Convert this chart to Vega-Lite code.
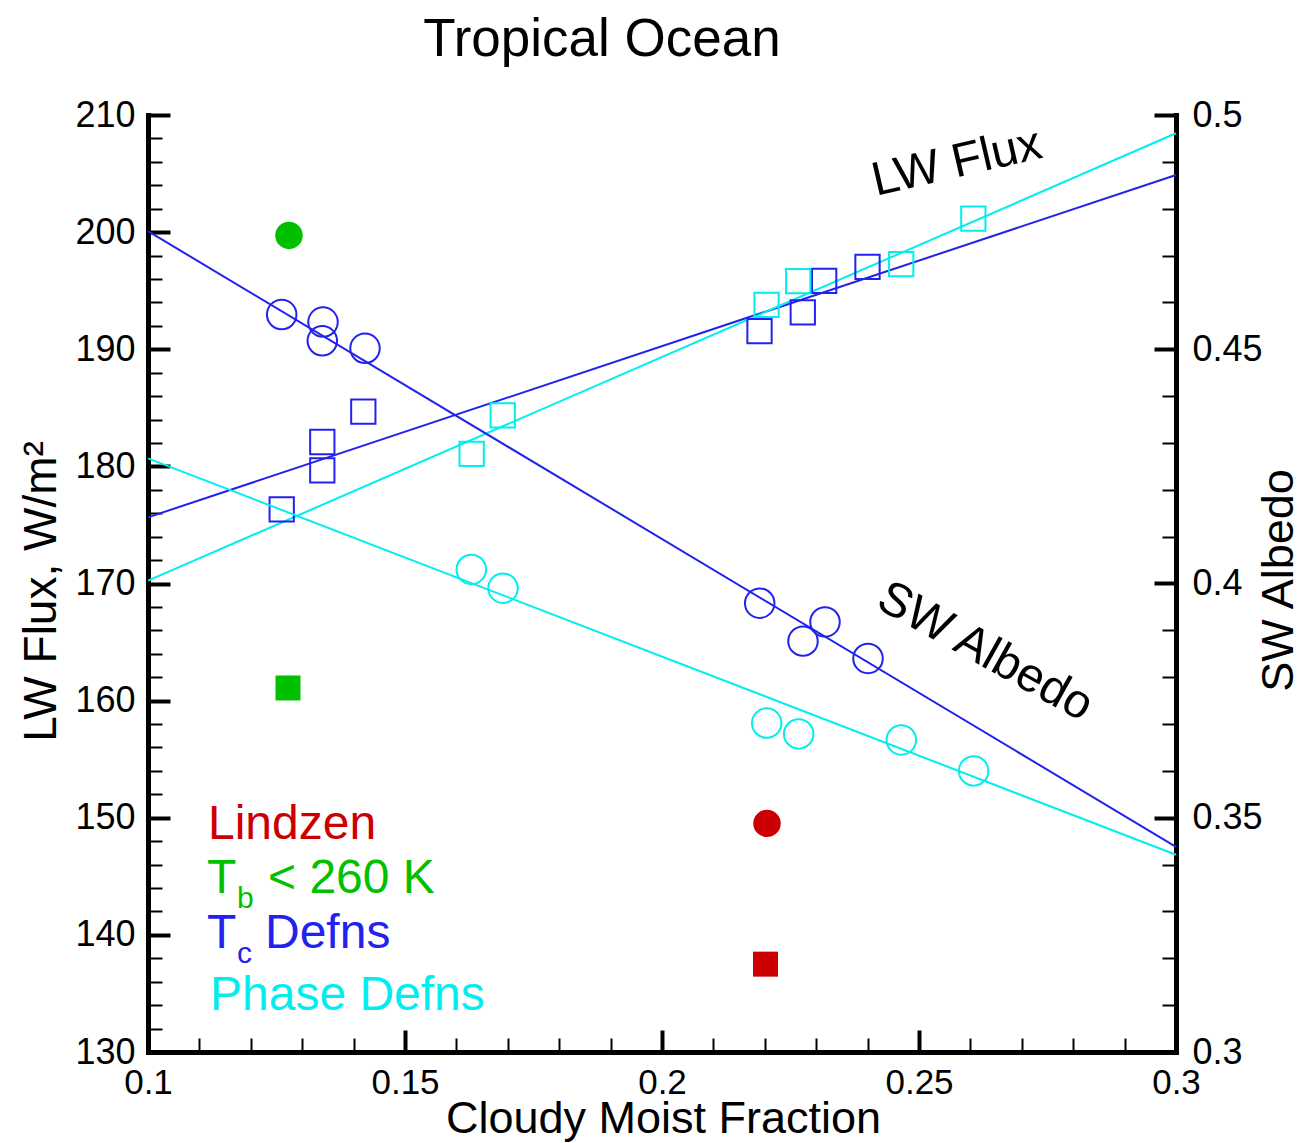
{
  "$schema": "https://vega.github.io/schema/vega-lite/v6.json",
  "width": 1028,
  "height": 937,
  "autosize": {"type": "none"},
  "padding": {"left": 148, "top": 115, "right": 126, "bottom": 91},
  "background": "white",
  "config": {"view": {"stroke": null}, "font": "Liberation Sans"},
  "title": {"text": "Tropical Ocean", "fontSize": 53, "fontWeight": "normal", "font": "Liberation Sans", "color": "black", "anchor": "middle", "frame": "group", "dx": -60, "baseline": "alphabetic", "offset": -12},
  "datasets": {
    "flux": [
      {"frac": 0.12601, "flux": 176.33, "series": "Tc"},
      {"frac": 0.13391, "flux": 182.08, "series": "Tc"},
      {"frac": 0.13391, "flux": 179.66, "series": "Tc"},
      {"frac": 0.14189, "flux": 184.67, "series": "Tc"},
      {"frac": 0.21897, "flux": 191.54, "series": "Tc"},
      {"frac": 0.22739, "flux": 193.14, "series": "Tc"},
      {"frac": 0.23155, "flux": 195.84, "series": "Tc"},
      {"frac": 0.23998, "flux": 197.04, "series": "Tc"},
      {"frac": 0.16297, "flux": 181.06, "series": "Phase"},
      {"frac": 0.16901, "flux": 184.36, "series": "Phase"},
      {"frac": 0.22034, "flux": 193.78, "series": "Phase"},
      {"frac": 0.2265, "flux": 195.81, "series": "Phase"},
      {"frac": 0.24654, "flux": 197.26, "series": "Phase"},
      {"frac": 0.26057, "flux": 201.15, "series": "Phase"},
      {"frac": 0.12724, "flux": 161.08, "series": "Tb"},
      {"frac": 0.22014, "flux": 137.5, "series": "Lindzen"}
    ],
    "albedo": [
      {"frac": 0.12601, "albedo": 0.4574, "series": "Tc"},
      {"frac": 0.13405, "albedo": 0.4558, "series": "Tc"},
      {"frac": 0.13391, "albedo": 0.4518, "series": "Tc"},
      {"frac": 0.14222, "albedo": 0.4502, "series": "Tc"},
      {"frac": 0.21901, "albedo": 0.3958, "series": "Tc"},
      {"frac": 0.23171, "albedo": 0.3918, "series": "Tc"},
      {"frac": 0.22743, "albedo": 0.3877, "series": "Tc"},
      {"frac": 0.24008, "albedo": 0.384, "series": "Tc"},
      {"frac": 0.1629, "albedo": 0.403, "series": "Phase"},
      {"frac": 0.16907, "albedo": 0.399, "series": "Phase"},
      {"frac": 0.22037, "albedo": 0.3702, "series": "Phase"},
      {"frac": 0.22659, "albedo": 0.3679, "series": "Phase"},
      {"frac": 0.24656, "albedo": 0.3666, "series": "Phase"},
      {"frac": 0.26063, "albedo": 0.36, "series": "Phase"},
      {"frac": 0.12743, "albedo": 0.4743, "series": "Tb"},
      {"frac": 0.22043, "albedo": 0.3488, "series": "Lindzen"}
    ],
    "fluxFits": [
      {"frac": 0.1, "flux": 175.65, "series": "Tc"},
      {"frac": 0.3, "flux": 204.88, "series": "Tc"},
      {"frac": 0.1, "flux": 170.24, "series": "Phase"},
      {"frac": 0.3, "flux": 208.44, "series": "Phase"}
    ],
    "albedoFits": [
      {"frac": 0.1, "albedo": 0.4752, "series": "Tc"},
      {"frac": 0.3, "albedo": 0.3438, "series": "Tc"},
      {"frac": 0.1, "albedo": 0.4267, "series": "Phase"},
      {"frac": 0.3, "albedo": 0.3421, "series": "Phase"}
    ],
    "legend": [
      {"frac": 0.11167, "flux": 148.19, "label": "Lindzen", "series": "Lindzen", "part": "main"},
      {"frac": 0.11148, "flux": 143.57, "label": "T", "series": "Tb", "part": "main"},
      {"frac": 0.11732, "flux": 142.3, "label": "b", "series": "Tb", "part": "sub"},
      {"frac": 0.12335, "flux": 143.57, "label": "< 260 K", "series": "Tb", "part": "main"},
      {"frac": 0.11148, "flux": 138.88, "label": "T", "series": "Tc", "part": "main"},
      {"frac": 0.11732, "flux": 137.6, "label": "c", "series": "Tc", "part": "sub"},
      {"frac": 0.12276, "flux": 138.88, "label": "Defns", "series": "Tc", "part": "main"},
      {"frac": 0.11206, "flux": 133.59, "label": "Phase Defns", "series": "Phase", "part": "main"}
    ],
    "notes": [
      {"frac": 0.25739, "flux": 205.9, "label": "LW Flux"},
      {"frac": 0.26284, "flux": 164.15, "label": "SW Albedo"}
    ]
  },
  "layer": [
    {
      "encoding": {
        "x": {"field": "frac", "type": "quantitative", "scale": {"domain": [0.1, 0.3], "nice": false, "zero": false},
          "axis": {"orient": "bottom", "values": [0.1, 0.15, 0.2, 0.25, 0.3], "format": "~g", "grid": false,
            "tickSize": -22, "tickWidth": 4, "tickColor": "black", "domainColor": "black", "domainWidth": 5, "domainCap": "square",
            "labelFontSize": 35, "labelFont": "Liberation Sans", "labelColor": "black", "labelPadding": 35, "labelFlush": false, "labelOverlap": false, "labelBound": false,
            "title": "Cloudy Moist Fraction", "titleFontSize": 45, "titleFontWeight": "normal", "titleFont": "Liberation Sans", "titleColor": "black",
            "titleX": 515, "titleY": 80, "titleBaseline": "alphabetic", "titleAlign": "center"}},
        "y": {"field": "flux", "type": "quantitative", "scale": {"domain": [130, 210], "nice": false, "zero": false},
          "axis": {"orient": "left", "values": [130, 140, 150, 160, 170, 180, 190, 200, 210], "format": "d", "grid": false,
            "tickSize": -22, "tickWidth": 4, "tickColor": "black", "domainColor": "black", "domainWidth": 5, "domainCap": "square",
            "labelFontSize": 36, "labelFont": "Liberation Sans", "labelColor": "black", "labelPadding": 35, "labelFlush": false, "labelOverlap": false, "labelBound": false,
            "title": "LW Flux, W/m²", "titleFontSize": 46, "titleFontWeight": "normal", "titleFont": "Liberation Sans", "titleColor": "black",
            "titleX": -93, "titleY": 476, "titleAngle": 270, "titleBaseline": "alphabetic", "titleAlign": "center"}}
      },
      "layer": [
        {"data": {"name": "fluxFits"}, "mark": {"type": "line", "strokeWidth": 2},
          "encoding": {"color": {"field": "series", "type": "nominal", "scale": {"domain": ["Lindzen", "Tb", "Tc", "Phase"], "range": ["#cc0000", "#00c000", "#2222ee", "#00eeee"]}, "legend": null}}},
        {"data": {"name": "flux"}, "transform": [{"filter": "datum.series == 'Tc' || datum.series == 'Phase'"}],
          "mark": {"type": "point", "shape": "square", "filled": false, "strokeWidth": 2, "size": 590, "opacity": 1},
          "encoding": {"color": {"field": "series", "type": "nominal", "legend": null}}},
        {"data": {"name": "flux"}, "transform": [{"filter": "datum.series == 'Tb' || datum.series == 'Lindzen'"}],
          "mark": {"type": "square", "size": 625, "opacity": 1},
          "encoding": {"color": {"field": "series", "type": "nominal", "legend": null}}},
        {"data": {"name": "legend"}, "transform": [{"filter": "datum.part == 'main'"}],
          "mark": {"type": "text", "align": "left", "baseline": "alphabetic", "fontSize": 48, "font": "Liberation Sans"},
          "encoding": {"text": {"field": "label"}, "color": {"field": "series", "type": "nominal", "legend": null}}},
        {"data": {"name": "legend"}, "transform": [{"filter": "datum.part == 'sub'"}],
          "mark": {"type": "text", "align": "left", "baseline": "alphabetic", "fontSize": 30, "font": "Liberation Sans"},
          "encoding": {"text": {"field": "label"}, "color": {"field": "series", "type": "nominal", "legend": null}}},
        {"data": {"name": "notes"}, "transform": [{"filter": "datum.label == 'LW Flux'"}],
          "mark": {"type": "text", "align": "center", "baseline": "middle", "fontSize": 48, "font": "Liberation Sans", "color": "black", "angle": -13},
          "encoding": {"text": {"field": "label"}}},
        {"data": {"name": "notes"}, "transform": [{"filter": "datum.label == 'SW Albedo'"}],
          "mark": {"type": "text", "align": "center", "baseline": "middle", "fontSize": 48, "font": "Liberation Sans", "color": "black", "angle": 29},
          "encoding": {"text": {"field": "label"}}}
      ]
    },
    {
      "data": {"name": "fluxFits"},
      "mark": {"type": "point", "opacity": 0},
      "encoding": {
        "x": {"field": "frac", "type": "quantitative", "scale": {"domain": [0.1, 0.3], "nice": false, "zero": false},
          "axis": {"orient": "bottom", "values": [0.11, 0.12, 0.13, 0.14, 0.16, 0.17, 0.18, 0.19, 0.21, 0.22, 0.23, 0.24, 0.26, 0.27, 0.28, 0.29],
            "grid": false, "domain": false, "labels": false, "title": null, "tickSize": -14, "tickWidth": 2, "tickColor": "black"}},
        "y": {"field": "flux", "type": "quantitative", "scale": {"domain": [130, 210], "nice": false, "zero": false},
          "axis": {"orient": "left", "values": [132, 134, 136, 138, 142, 144, 146, 148, 152, 154, 156, 158, 162, 164, 166, 168, 172, 174, 176, 178, 182, 184, 186, 188, 192, 194, 196, 198, 202, 204, 206, 208],
            "grid": false, "domain": false, "labels": false, "title": null, "tickSize": -14, "tickWidth": 2, "tickColor": "black"}}
      }
    },
    {
      "encoding": {
        "x": {"field": "frac", "type": "quantitative", "scale": {"domain": [0.1, 0.3], "nice": false, "zero": false}, "axis": null},
        "y": {"field": "albedo", "type": "quantitative", "scale": {"domain": [0.3, 0.5], "nice": false, "zero": false},
          "axis": {"orient": "right", "values": [0.3, 0.35, 0.4, 0.45, 0.5], "format": "~g", "grid": false,
            "tickSize": -22, "tickWidth": 4, "tickColor": "black", "domainColor": "black", "domainWidth": 5, "domainCap": "square",
            "labelFontSize": 36, "labelFont": "Liberation Sans", "labelColor": "black", "labelPadding": 38, "labelFlush": false, "labelOverlap": false, "labelBound": false,
            "title": "SW Albedo", "titleFontSize": 45, "titleFontWeight": "normal", "titleFont": "Liberation Sans", "titleColor": "black",
            "titleX": 116, "titleY": 465, "titleAngle": 270, "titleBaseline": "alphabetic", "titleAlign": "center"}}
      },
      "layer": [
        {"data": {"name": "albedoFits"}, "mark": {"type": "line", "strokeWidth": 2},
          "encoding": {"color": {"field": "series", "type": "nominal", "legend": null}}},
        {"data": {"name": "albedo"}, "transform": [{"filter": "datum.series == 'Tc' || datum.series == 'Phase'"}],
          "mark": {"type": "point", "shape": "circle", "filled": false, "strokeWidth": 2, "size": 870, "opacity": 1},
          "encoding": {"color": {"field": "series", "type": "nominal", "legend": null}}},
        {"data": {"name": "albedo"}, "transform": [{"filter": "datum.series == 'Tb' || datum.series == 'Lindzen'"}],
          "mark": {"type": "circle", "size": 755, "opacity": 1},
          "encoding": {"color": {"field": "series", "type": "nominal", "legend": null}}}
      ]
    },
    {
      "data": {"name": "albedoFits"},
      "mark": {"type": "point", "opacity": 0},
      "encoding": {
        "x": {"field": "frac", "type": "quantitative", "scale": {"domain": [0.1, 0.3], "nice": false, "zero": false}, "axis": null},
        "y": {"field": "albedo", "type": "quantitative", "scale": {"domain": [0.3, 0.5], "nice": false, "zero": false},
          "axis": {"orient": "right", "values": [0.31, 0.32, 0.33, 0.34, 0.36, 0.37, 0.38, 0.39, 0.41, 0.42, 0.43, 0.44, 0.46, 0.47, 0.48, 0.49],
            "grid": false, "domain": false, "labels": false, "title": null, "tickSize": -14, "tickWidth": 2, "tickColor": "black"}}
      }
    }
  ],
  "resolve": {"scale": {"y": "independent"}, "axis": {"x": "independent", "y": "independent"}}
}
